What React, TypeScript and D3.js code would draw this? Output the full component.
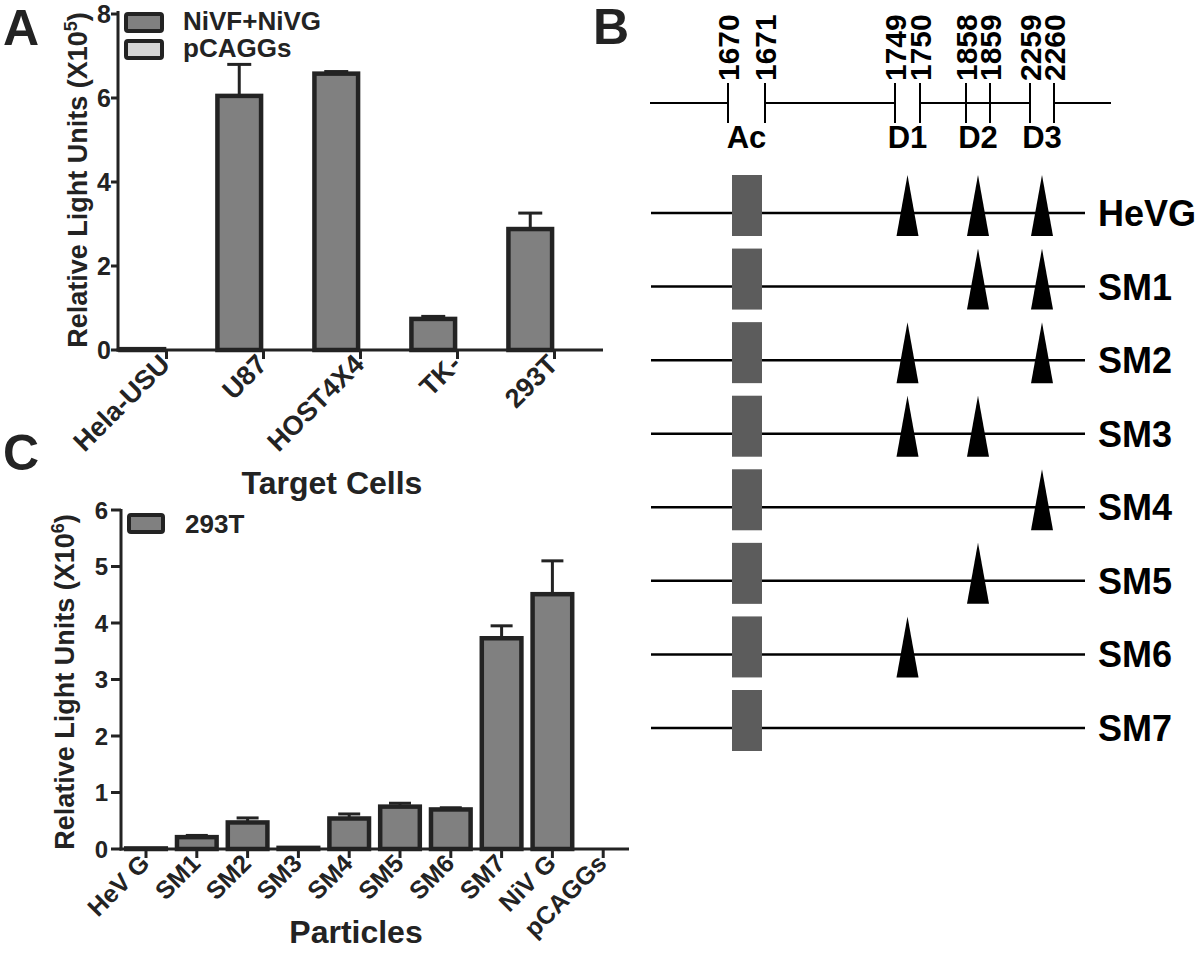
import React from 'react';
import * as d3 from 'd3';

// ---------- Panel A data ----------
const catsA = ['Hela-USU', 'U87', 'HOST4X4', 'TK-', '293T'];
const seriesA = ['NiVF+NiVG', 'pCAGGs'];
const nivA = [0.02, 6.05, 6.58, 0.74, 2.88];
const nivErrA = [0, 0.75, 0.05, 0.06, 0.38];
const pcaggsA = [0, 0, 0, 0, 0];
const ticksA = [0, 2, 4, 6, 8];

// ---------- Panel C data ----------
const catsC = ['HeV G', 'SM1', 'SM2', 'SM3', 'SM4', 'SM5', 'SM6', 'SM7', 'NiV G', 'pCAGGs'];
const valsC = [0.01, 0.21, 0.47, 0.02, 0.54, 0.75, 0.7, 3.73, 4.51, 0];
const errC = [0, 0.03, 0.08, 0, 0.08, 0.06, 0.03, 0.22, 0.59, 0];
const ticksC = [0, 1, 2, 3, 4, 5, 6];

// ---------- Panel B data ----------
const sites = [1670, 1671, 1749, 1750, 1858, 1859, 2259, 2260];
const domainNames = ['Ac', 'D1', 'D2', 'D3'];
const domainSites = [[1670, 1671], [1749, 1750], [1858, 1859], [2259, 2260]];
const mutants = ['HeVG', 'SM1', 'SM2', 'SM3', 'SM4', 'SM5', 'SM6', 'SM7'];
const mutantDomains = [
  ['D1', 'D2', 'D3'],
  ['D2', 'D3'],
  ['D1', 'D3'],
  ['D1', 'D2'],
  ['D3'],
  ['D2'],
  ['D1'],
  [],
];
const gapDomains = ['Ac', 'D1', 'D3'];

const FONT = '"Liberation Sans", Arial, Helvetica, sans-serif';
const DARK = '#232323';
const BARFILL = '#808080';

function PanelA() {
  const x0 = d3.scaleBand().domain(catsA).range([118, 603]).paddingInner(0).paddingOuter(0);
  const x1 = d3.scaleBand().domain(seriesA).range([0, x0.bandwidth()]).paddingInner(0.1).paddingOuter(0.05);
  const y = d3.scaleLinear().domain([0, 8]).range([350, 14]);
  const seriesVals = [nivA, pcaggsA];
  const seriesErr = [nivErrA, pcaggsA.map(() => 0)];
  const fills = [BARFILL, '#d6d6d6'];
  return (
    <g fontFamily={FONT} fontWeight="bold" fill={DARK}>
      {catsA.map((c, i) => (
        <g key={c}>
          {seriesA.map((s, j) => {
            const v = seriesVals[j][i];
            const e = seriesErr[j][i];
            const bx = (x0(c) as number) + (x1(s) as number);
            const bw = x1.bandwidth();
            const cx = bx + bw / 2;
            return (
              <g key={s}>
                {e > 0 && (
                  <g stroke={DARK} strokeWidth={3}>
                    <line x1={cx} x2={cx} y1={y(v)} y2={y(v + e)} />
                    <line x1={cx - 12} x2={cx + 12} y1={y(v + e)} y2={y(v + e)} />
                  </g>
                )}
                <rect x={bx} y={y(v)} width={bw} height={y(0) - y(v)} fill={fills[j]} stroke={DARK} strokeWidth={4.5} />
              </g>
            );
          })}
        </g>
      ))}
      {/* axes */}
      <line x1={118} x2={118} y1={11} y2={351.5} stroke={DARK} strokeWidth={3} />
      <line x1={116.5} x2={603} y1={350} y2={350} stroke={DARK} strokeWidth={3} />
      {ticksA.map((t) => (
        <g key={t}>
          <line x1={111} x2={118} y1={y(t)} y2={y(t)} stroke={DARK} strokeWidth={3} />
          <text x={111} y={y(t)} dy="0.36em" textAnchor="end" fontSize={25}>{t}</text>
        </g>
      ))}
      {catsA.map((c) => {
        const cx = (x0(c) as number) + x0.bandwidth() / 2;
        return (
          <g key={c}>
            <line x1={cx} x2={cx} y1={350} y2={359} stroke={DARK} strokeWidth={3} />
            <text transform={`translate(${cx + 5},${366}) rotate(-45)`} textAnchor="end" fontSize={27}>{c}</text>
          </g>
        );
      })}
      <text x={332} y={494} textAnchor="middle" fontSize={32}>Target Cells</text>
      <text transform="translate(87,180) rotate(-90)" textAnchor="middle" fontSize={27}>
        Relative Light Units (X10<tspan dy="-10" fontSize={18}>5</tspan><tspan dy="10">)</tspan>
      </text>
      {/* legend */}
      <rect x={126} y={14} width={36} height={17} fill={BARFILL} stroke={DARK} strokeWidth={4} rx={2} />
      <rect x={126} y={41} width={36} height={17} fill="#d6d6d6" stroke={DARK} strokeWidth={4} rx={2} />
      <text x={183} y={30} fontSize={26}>{seriesA[0]}</text>
      <text x={183} y={57} fontSize={26}>{seriesA[1]}</text>
      <text x={3} y={45} fontSize={50}>A</text>
    </g>
  );
}

function PanelC() {
  const x = d3.scaleBand().domain(catsC).range([120.6, 628.6]).paddingInner(0.22).paddingOuter(0.11);
  const y = d3.scaleLinear().domain([0, 6]).range([849, 510]);
  return (
    <g fontFamily={FONT} fontWeight="bold" fill={DARK}>
      {catsC.map((c, i) => {
        const v = valsC[i];
        const e = errC[i];
        const bx = x(c) as number;
        const bw = x.bandwidth();
        const cx = bx + bw / 2;
        return (
          <g key={c}>
            {e > 0 && (
              <g stroke={DARK} strokeWidth={3}>
                <line x1={cx} x2={cx} y1={y(v)} y2={y(v + e)} />
                <line x1={cx - 11} x2={cx + 11} y1={y(v + e)} y2={y(v + e)} />
              </g>
            )}
            {v > 0 && (
              <rect x={bx} y={y(v)} width={bw} height={y(0) - y(v)} fill={BARFILL} stroke={DARK} strokeWidth={4.5} />
            )}
          </g>
        );
      })}
      <line x1={121} x2={121} y1={509} y2={850.5} stroke={DARK} strokeWidth={3} />
      <line x1={119.5} x2={629} y1={849} y2={849} stroke={DARK} strokeWidth={3} />
      {ticksC.map((t) => (
        <g key={t}>
          <line x1={111} x2={121} y1={y(t)} y2={y(t)} stroke={DARK} strokeWidth={3} />
          <text x={108} y={y(t)} dy="0.36em" textAnchor="end" fontSize={24}>{t}</text>
        </g>
      ))}
      {catsC.map((c) => {
        const cx = (x(c) as number) + x.bandwidth() / 2;
        return (
          <g key={c}>
            <line x1={cx} x2={cx} y1={849} y2={858} stroke={DARK} strokeWidth={3} />
            <text transform={`translate(${cx + 5},${865}) rotate(-45)`} textAnchor="end" fontSize={25}>{c}</text>
          </g>
        );
      })}
      <text x={356} y={943} textAnchor="middle" fontSize={32}>Particles</text>
      <text transform="translate(74,682) rotate(-90)" textAnchor="middle" fontSize={27}>
        Relative Light Units (X10<tspan dy="-10" fontSize={18}>6</tspan><tspan dy="10">)</tspan>
      </text>
      <rect x={129} y={515} width={34} height={17} fill={BARFILL} stroke={DARK} strokeWidth={4} rx={2} />
      <text x={185} y={533} fontSize={26}>293T</text>
      <text x={3} y={470} fontSize={50}>C</text>
    </g>
  );
}

function PanelB() {
  const sx = d3
    .scaleLinear()
    .domain([1600, 1670, 1671, 1749, 1750, 1858, 1859, 2259, 2260, 2330])
    .range([650, 728, 765, 895, 920, 966, 990, 1030, 1054, 1111]);
  const rowY = d3.scalePoint().domain(mutants).range([213, 728]);
  const domX = (name: string) => {
    const k = domainNames.indexOf(name);
    return (sx(domainSites[k][0]) + sx(domainSites[k][1])) / 2;
  };
  const pts = [1600, ...sites, 2330];
  const segs: [number, number][] = [];
  for (let i = 0; i < pts.length - 1; i++) {
    const a = pts[i];
    const b = pts[i + 1];
    const inGap = domainSites.some((ds, k) => gapDomains.includes(domainNames[k]) && ds[0] === a && ds[1] === b);
    if (!inGap) segs.push([a, b]);
  }
  const rectTop = -38;
  const rectH = 61;
  return (
    <g fontFamily={FONT} fontWeight="bold" fill="#000">
      <text x={593} y={44} fontSize={50} fill={DARK}>B</text>
      {segs.map(([a, b]) => (
        <line key={a} x1={sx(a)} x2={sx(b)} y1={103} y2={103} stroke="#000" strokeWidth={2} />
      ))}
      {sites.map((s) => (
        <g key={s}>
          <line x1={sx(s)} x2={sx(s)} y1={83} y2={123} stroke="#000" strokeWidth={2} />
          <text transform={`translate(${sx(s) + 11},${81}) rotate(-90)`} fontSize={30}>{s}</text>
        </g>
      ))}
      {domainNames.map((d) => (
        <text key={d} x={domX(d)} y={148} textAnchor="middle" fontSize={31}>{d}</text>
      ))}
      {mutants.map((m, i) => {
        const ly = rowY(m) as number;
        return (
          <g key={m}>
            <line x1={651} x2={1085} y1={ly} y2={ly} stroke="#000" strokeWidth={2.5} />
            <rect x={732} y={ly + rectTop} width={30} height={rectH} fill="#5c5c5c" />
            {mutantDomains[i].map((d) => {
              const cx = domX(d);
              const top = ly + rectTop;
              const bot = top + rectH;
              return <path key={d} d={`M${cx},${top} L${cx + 11},${bot} L${cx - 11},${bot} Z`} fill="#000" />;
            })}
            <text x={1098} y={ly} dy="0.36em" fontSize={36}>{m}</text>
          </g>
        );
      })}
    </g>
  );
}

export default function App() {
  return (
    <svg
      width={1200}
      height={955}
      viewBox="0 0 1200 955"
      style={{ position: 'absolute', left: 0, top: 0, display: 'block', background: '#fff' }}
    >
      <rect x={0} y={0} width={1200} height={955} fill="#fff" />
      <PanelA />
      <PanelB />
      <PanelC />
    </svg>
  );
}
